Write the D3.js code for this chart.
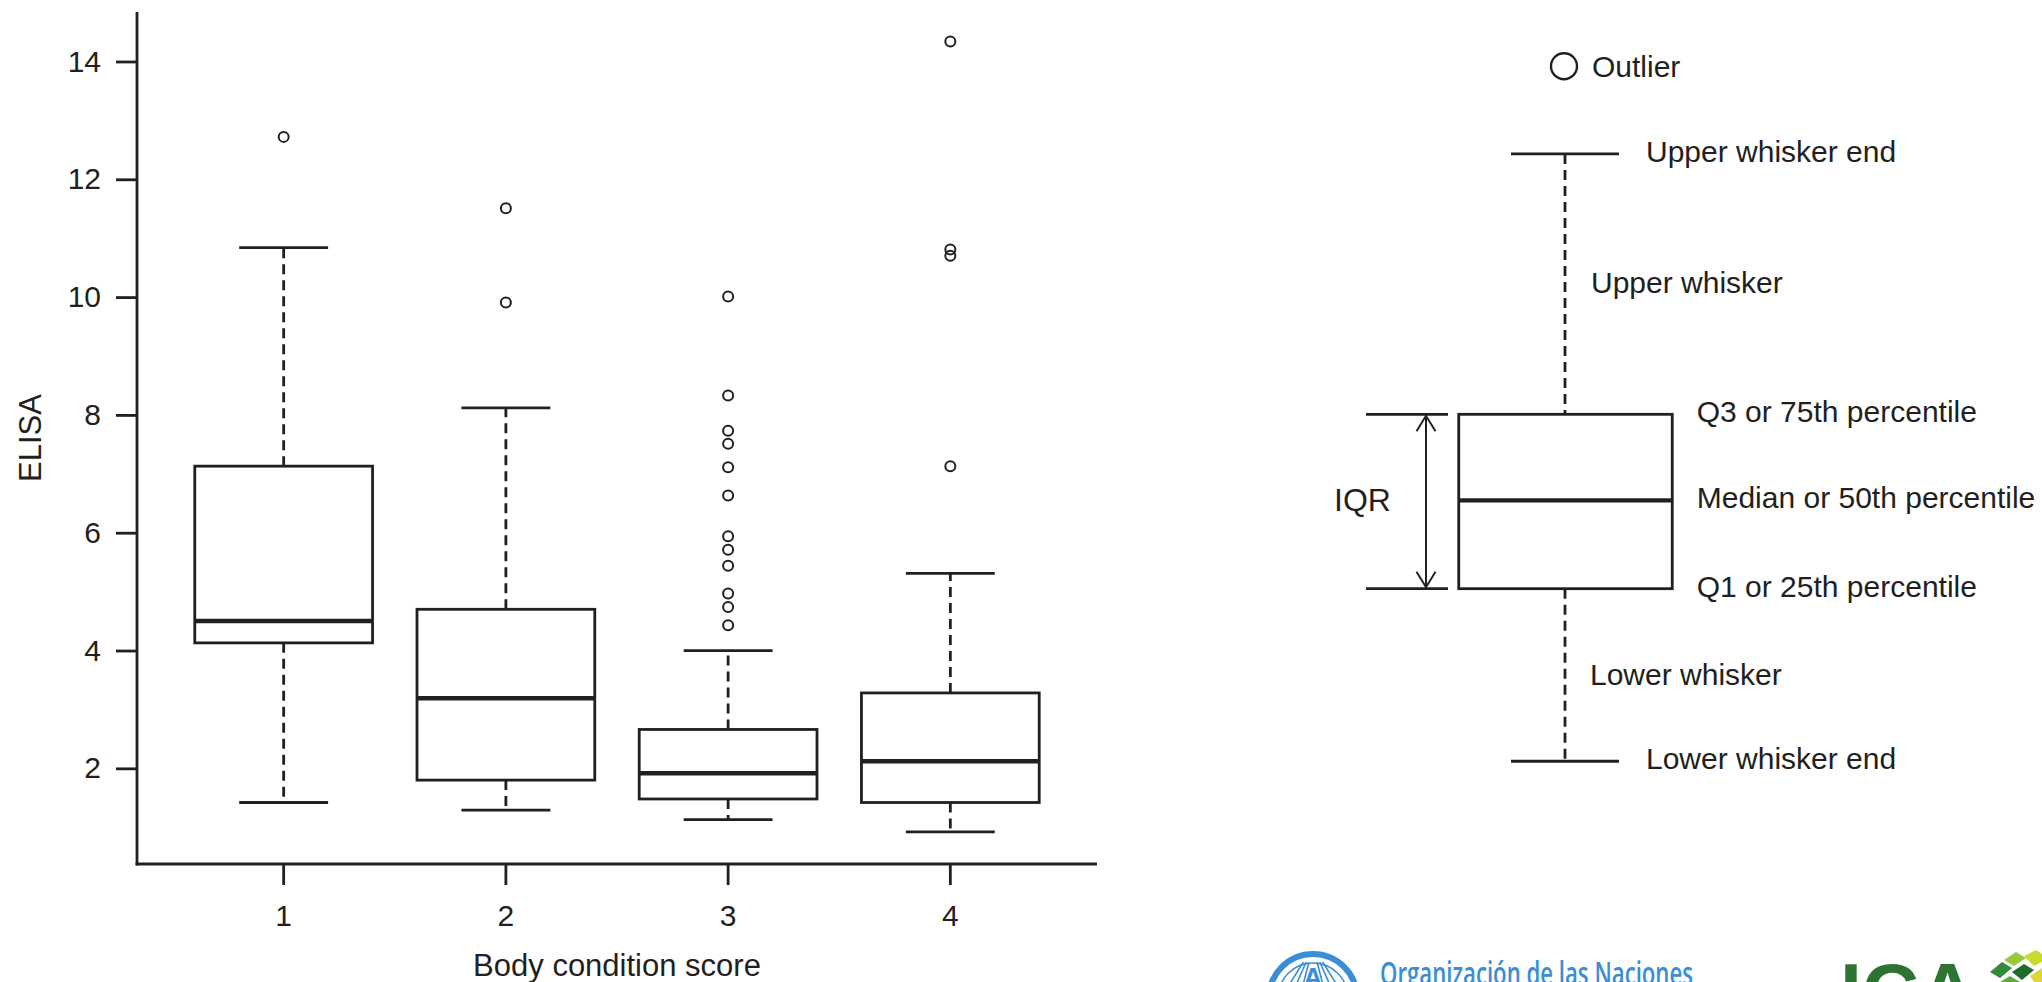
<!DOCTYPE html>
<html>
<head>
<meta charset="utf-8">
<script src="https://cdn.jsdelivr.net/npm/d3@7"></script>
<style>
  html, body { margin: 0; padding: 0; background: #fff; }
  svg { display: block; font-family: "Liberation Sans", Arial, Helvetica, sans-serif; }
</style>
</head>
<body>
<svg id="chart" width="2042" height="982"></svg>
<script>
// box plot values
var categories = ["1", "2", "3", "4"];
var lowerWhisker = [1.42, 1.29, 1.13, 0.92];
var q1 = [4.13, 1.80, 1.48, 1.42];
var median = [4.50, 3.19, 1.915, 2.12];
var q3 = [7.13, 4.70, 2.66, 3.28];
var upperWhisker = [10.84, 8.12, 4.00, 5.31];
var outliers = [
	[12.72],
	[11.51, 9.91],
	[10.01, 8.33, 7.73, 7.51, 7.11, 6.63, 5.94, 5.71, 5.44, 4.97, 4.74, 4.43],
	[14.34, 10.81, 10.70, 7.13]
];
var yTicks = [2, 4, 6, 8, 10, 12, 14];

// explanatory key, drawn on the same value scale
var keyParts = ["outlier", "upperEnd", "q3", "median", "q1", "lowerEnd"];
var keyValues = [13.92, 12.43, 8.01, 6.55, 5.05, 2.12];
var keyLabels = ["Outlier", "Upper whisker end", "Q3 or 75th percentile",
	"Median or 50th percentile", "Q1 or 25th percentile", "Lower whisker end"];
var whiskerLabels = ["Upper whisker", "Lower whisker"];

var ink = "#231f20";
var svg = d3.select("#chart");
svg.append("rect").attr("width", 2042).attr("height", 982).attr("fill", "#fff");

var plotLeft = 137, plotRight = 1097, plotTop = 12, plotBottom = 864;

var y = d3.scaleLinear().domain([0.376, 14.84]).range([plotBottom, plotTop]);
var xFrame = d3.scaleLinear().domain([0.34, 4.66]).range([plotLeft, plotRight]);
var x = d3.scaleBand().domain(categories)
	.range([xFrame(0.5), xFrame(4.5)])
	.paddingInner(0.2).paddingOuter(0.1);

var bw = x.bandwidth();

// axes
var yAxis = svg.append("g")
	.attr("transform", "translate(" + plotLeft + ",0)")
	.call(d3.axisLeft(y).tickValues(yTicks).tickSize(21).tickPadding(15));
var xAxis = svg.append("g")
	.attr("transform", "translate(0," + plotBottom + ")")
	.call(d3.axisBottom(x).tickSize(21).tickPadding(20));

[yAxis, xAxis].forEach(function(g) {
	g.select(".domain").remove();
	g.selectAll(".tick line").attr("stroke", ink).attr("stroke-width", 2.8);
	g.selectAll(".tick text").attr("fill", ink).attr("font-size", 30)
		.attr("font-family", "Liberation Sans, Arial, sans-serif");
});

svg.append("line").attr("x1", plotLeft).attr("x2", plotLeft).attr("y1", plotTop).attr("y2", plotBottom + 1.4)
	.attr("stroke", ink).attr("stroke-width", 2.8);
svg.append("line").attr("x1", plotLeft - 1.4).attr("x2", plotRight).attr("y1", plotBottom).attr("y2", plotBottom)
	.attr("stroke", ink).attr("stroke-width", 2.8);

svg.append("text")
	.attr("x", (plotLeft + plotRight) / 2).attr("y", 976)
	.attr("text-anchor", "middle").attr("font-size", 31).attr("fill", ink)
	.text("Body condition score");

svg.append("text")
	.attr("transform", "translate(41," + ((plotTop + plotBottom) / 2) + ") rotate(-90)")
	.attr("text-anchor", "middle").attr("font-size", 31).attr("fill", ink)
	.text("ELISA");

// boxes
var boxes = svg.append("g").selectAll("g")
	.data(categories)
	.enter().append("g");

boxes.each(function(c, i) {
	var g = d3.select(this);
	var cx = x(c) + bw / 2;

	g.append("line").attr("x1", cx).attr("x2", cx)
		.attr("y1", y(q3[i])).attr("y2", y(upperWhisker[i]))
		.attr("stroke", ink).attr("stroke-width", 2.8).attr("stroke-dasharray", "10,6");
	g.append("line").attr("x1", cx).attr("x2", cx)
		.attr("y1", y(q1[i])).attr("y2", y(lowerWhisker[i]))
		.attr("stroke", ink).attr("stroke-width", 2.8).attr("stroke-dasharray", "10,6");

	[upperWhisker[i], lowerWhisker[i]].forEach(function(v) {
		g.append("line").attr("x1", cx - bw / 4).attr("x2", cx + bw / 4)
			.attr("y1", y(v)).attr("y2", y(v))
			.attr("stroke", ink).attr("stroke-width", 2.8);
	});

	g.append("rect")
		.attr("x", x(c)).attr("width", bw)
		.attr("y", y(q3[i])).attr("height", y(q1[i]) - y(q3[i]))
		.attr("fill", "#fff").attr("stroke", ink).attr("stroke-width", 2.8);

	g.append("line").attr("x1", x(c)).attr("x2", x(c) + bw)
		.attr("y1", y(median[i])).attr("y2", y(median[i]))
		.attr("stroke", ink).attr("stroke-width", 4.5);

	g.selectAll("circle").data(outliers[i]).enter().append("circle")
		.attr("cx", cx).attr("cy", function(d) { return y(d); })
		.attr("r", 5).attr("fill", "none").attr("stroke", ink).attr("stroke-width", 2);
});

// key on the right
var kx = 1565, kw = 213.5, capW = 108;
var kv = {};
keyParts.forEach(function(p, i) { kv[p] = keyValues[i]; });
var key = svg.append("g");

key.append("line").attr("x1", kx).attr("x2", kx)
	.attr("y1", y(kv.upperEnd)).attr("y2", y(kv.q3))
	.attr("stroke", ink).attr("stroke-width", 2.8).attr("stroke-dasharray", "10,6");
key.append("line").attr("x1", kx).attr("x2", kx)
	.attr("y1", y(kv.q1)).attr("y2", y(kv.lowerEnd))
	.attr("stroke", ink).attr("stroke-width", 2.8).attr("stroke-dasharray", "10,6");
["upperEnd", "lowerEnd"].forEach(function(p) {
	key.append("line").attr("x1", kx - capW / 2).attr("x2", kx + capW / 2)
		.attr("y1", y(kv[p])).attr("y2", y(kv[p]))
		.attr("stroke", ink).attr("stroke-width", 2.8);
});
key.append("rect")
	.attr("x", kx - kw / 2 + 0.5).attr("width", kw)
	.attr("y", y(kv.q3)).attr("height", y(kv.q1) - y(kv.q3))
	.attr("fill", "#fff").attr("stroke", ink).attr("stroke-width", 2.8);
key.append("line").attr("x1", kx - kw / 2 + 0.5).attr("x2", kx + kw / 2 + 0.5)
	.attr("y1", y(kv.median)).attr("y2", y(kv.median))
	.attr("stroke", ink).attr("stroke-width", 4.2);
key.append("circle").attr("cx", kx - 1).attr("cy", y(kv.outlier)).attr("r", 13)
	.attr("fill", "none").attr("stroke", ink).attr("stroke-width", 2.4);

// IQR bracket with arrows
var ax = 1426;
["q3", "q1"].forEach(function(p) {
	key.append("line").attr("x1", 1366).attr("x2", 1448)
		.attr("y1", y(kv[p])).attr("y2", y(kv[p]))
		.attr("stroke", ink).attr("stroke-width", 2.8);
});
key.append("line").attr("x1", ax).attr("x2", ax)
	.attr("y1", y(kv.q3) + 1).attr("y2", y(kv.q1) - 1)
	.attr("stroke", ink).attr("stroke-width", 2);
key.append("path")
	.attr("d", "M" + (ax - 9.5) + "," + (y(kv.q3) + 17) + "L" + ax + "," + (y(kv.q3) + 1.5) +
		"L" + (ax + 9.5) + "," + (y(kv.q3) + 17))
	.attr("fill", "none").attr("stroke", ink).attr("stroke-width", 2);
key.append("path")
	.attr("d", "M" + (ax - 9.5) + "," + (y(kv.q1) - 17) + "L" + ax + "," + (y(kv.q1) - 1.5) +
		"L" + (ax + 9.5) + "," + (y(kv.q1) - 17))
	.attr("fill", "none").attr("stroke", ink).attr("stroke-width", 2);
key.append("text").attr("x", 1334).attr("y", y(kv.median) + 11)
	.attr("font-size", 32).attr("fill", ink).text("IQR");

var labelX = {outlier: kx + 27, upperEnd: kx + capW / 2 + 27, lowerEnd: kx + capW / 2 + 27,
	q3: kx + kw / 2 + 25, median: kx + kw / 2 + 25, q1: kx + kw / 2 + 25};
key.selectAll("text.klab").data(keyParts).enter().append("text")
	.attr("class", "klab")
	.attr("x", function(p) { return labelX[p]; })
	.attr("y", function(p, i) { return y(keyValues[i]) + (p === "outlier" ? 11 : 8); })
	.attr("font-size", 30).attr("fill", ink)
	.text(function(p, i) { return keyLabels[i]; });

key.append("text").attr("x", kx + 26).attr("y", (y(kv.upperEnd) + y(kv.q3)) / 2 + 9)
	.attr("font-size", 30).attr("fill", ink).text(whiskerLabels[0]);
key.append("text").attr("x", kx + 25).attr("y", (y(kv.q1) + y(kv.lowerEnd)) / 2 + 10)
	.attr("font-size", 30).attr("fill", ink).text(whiskerLabels[1]);

// footer logos (cut by the bottom edge)
var blue = "#3a8dd6";
var fao = svg.append("g");
fao.append("circle").attr("cx", 1313).attr("cy", 998).attr("r", 44)
	.attr("fill", "none").attr("stroke", blue).attr("stroke-width", 6);
fao.append("circle").attr("cx", 1313).attr("cy", 998).attr("r", 35)
	.attr("fill", "none").attr("stroke", blue).attr("stroke-width", 1.5);
[-24, -17, -10, 10, 17, 24].forEach(function(dx) {
	fao.append("line").attr("x1", 1313 + dx * 0.4).attr("y1", 962)
		.attr("x2", 1313 + dx).attr("y2", 985)
		.attr("stroke", blue).attr("stroke-width", 1.6);
});
fao.append("text").attr("x", 1313).attr("y", 986).attr("text-anchor", "middle")
	.attr("font-size", 26).attr("font-weight", "bold").attr("fill", blue).text("A");
fao.append("text").attr("x", 1380).attr("y", 985)
	.attr("font-family", "Open Sans, Noto Sans, sans-serif")
	.attr("font-size", 32).attr("font-weight", 600).attr("fill", blue)
	.attr("textLength", 313).attr("lengthAdjust", "spacingAndGlyphs")
	.text("Organización de las Naciones");

svg.append("text").attr("x", 1840).attr("y", 1018)
	.attr("font-size", 78).attr("font-weight", "bold").attr("fill", "#2d7433")
	.attr("textLength", 136).attr("lengthAdjust", "spacingAndGlyphs")
	.text("ICA");
var tiles = [
	["#2f8a3a", "1990,972 2002,962 2012,968 2000,978"],
	["#9cc83a", "2004,960 2016,952 2026,958 2014,966"],
	["#1f6b2c", "2012,972 2024,964 2034,970 2022,980"],
	["#c9d92e", "2024,956 2036,950 2042,954 2042,962 2034,966"],
	["#5aae3f", "2000,982 2010,976 2020,982"],
	["#e0d43a", "2030,976 2042,968 2042,982 2034,982"]
];
svg.append("g").selectAll("polygon").data(tiles).enter().append("polygon")
	.attr("points", function(d) { return d[1]; })
	.attr("fill", function(d) { return d[0]; });
</script>
</body>
</html>
